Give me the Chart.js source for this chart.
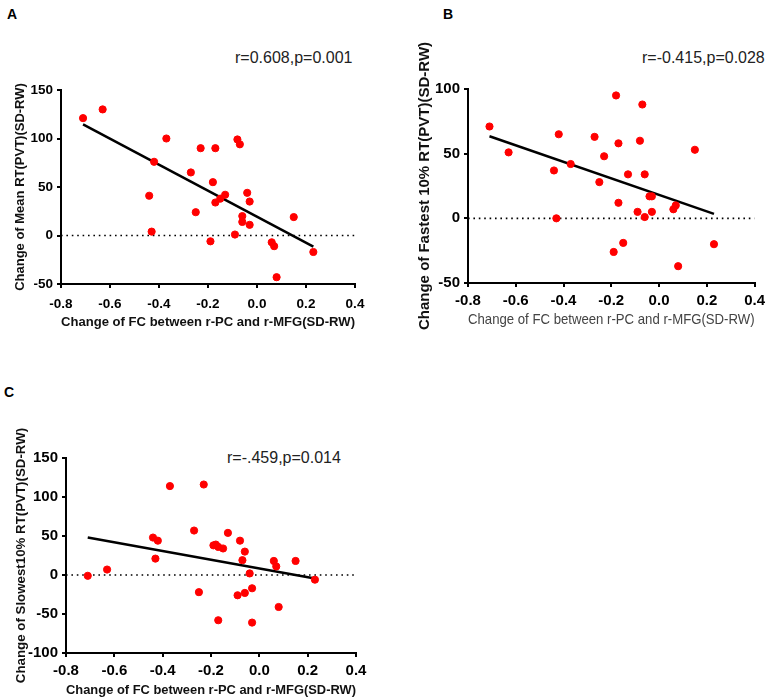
<!DOCTYPE html>
<html>
<head>
<meta charset="utf-8">
<script src="https://cdn.jsdelivr.net/npm/chart.js@4/dist/chart.umd.min.js"></script>
<style>
  body { margin:0; background:#fff; width:770px; height:699px; position:relative; overflow:hidden; font-family:"Liberation Sans", Arial, sans-serif; }
  .box { position:absolute; }
  .tag { position:absolute; font-weight:bold; font-size:14px; line-height:1; color:#000; }
  .stat { position:absolute; font-size:16px; line-height:1; color:#222; white-space:nowrap; }
</style>
</head>
<body>
<div class="tag" style="left:7px;top:7px;">A</div>
<div class="tag" style="left:443px;top:7px;">B</div>
<div class="tag" style="left:4px;top:385px;">C</div>

<div class="stat" style="left:235px;top:50px;">r=0.608,p=0.001</div>
<div class="stat" style="left:642px;top:50px;">r=-0.415,p=0.028</div>
<div class="stat" style="left:227px;top:450px;">r=-.459,p=0.014</div>

<div class="box" style="left:0;top:30px;width:385px;height:310px;"><canvas id="chartA"></canvas></div>
<div class="box" style="left:385px;top:30px;width:385px;height:310px;"><canvas id="chartB"></canvas></div>
<div class="box" style="left:0;top:370px;width:385px;height:329px;"><canvas id="chartC"></canvas></div>

<script>
// x = change of FC between r-PC and r-MFG, y = change of RT, one pair per subject
var fcA = [-0.71,-0.63,-0.37,-0.23,-0.17,-0.08,-0.07,-0.42,-0.27,-0.18,-0.44,-0.17,-0.15,-0.13,-0.04,-0.03,-0.25,-0.06,-0.06,-0.03,0.15,-0.43,-0.09,-0.19,0.06,0.07,0.23,0.08];
var meanRT = [121,130,100,90,90,99,94,76,65,55,41,34,38,42,44,35,24,20,14,11,19,4,1,-6,-7,-11,-17,-43];

var fcB = [-0.71,-0.63,-0.42,-0.44,-0.37,-0.43,-0.27,-0.23,-0.25,-0.18,-0.17,-0.17,-0.13,-0.19,-0.15,-0.07,-0.08,-0.06,-0.09,-0.06,-0.04,-0.03,-0.03,0.06,0.07,0.15,0.23,0.08];
var fastRT = [71,51,65,37,42,0,63,48,28,95,58,12,34,-26,-19,88,60,34,5,1,17,17,5,7,10,53,-20,-37];

var fcC = [-0.71,-0.63,-0.44,-0.42,-0.43,-0.37,-0.23,-0.27,-0.25,-0.19,-0.18,-0.17,-0.15,-0.13,-0.17,-0.08,-0.06,-0.07,-0.04,-0.09,-0.06,-0.03,-0.03,0.06,0.07,0.15,0.08,0.23];
var slowRT = [-1,7,48,44,21,114,116,57,-22,38,39,36,34,54,-58,44,30,19,2,-26,-23,-17,-61,18,11,18,-41,-6];

// regression line ends [x1, y1, x2, y2]
var fitA = [-0.71, 114.5, 0.23, -11.5];
var fitB = [-0.71, 63.5, 0.23, 3.5];
var fitC = [-0.71, 48, 0.23, -4.5];

var xTicks = [-0.8, 0.4, 0.2];       // min, max, step
var yTicksA = [-50, 150, 50];
var yTicksB = [-50, 100, 50];
var yTicksC = [-100, 150, 50];

var xTitle = "Change of FC between r-PC and r-MFG(SD-RW)";
var yTitleA = "Change of Mean RT(PVT)(SD-RW)";
var yTitleB = "Change of Fastest 10% RT(PVT)(SD-RW)";
var yTitleC = "Change of Slowest10% RT(PVT)(SD-RW)";

var FONT = "'Liberation Sans', Arial, sans-serif";

// zip two arrays into {x,y} points
var toPoints = function(xs, ys){
  var pts = [];
  for (var i = 0; i < xs.length; i++) {
    pts.push({x: xs[i], y: ys[i]});
  }
  return pts;
};

// cfg holds the layout bits for one panel
var makeChart = function(id, xs, ys, fit, yTicks, yTitle, cfg){
  var ctx = document.getElementById(id).getContext('2d');
  return new Chart(ctx, {
    type: 'scatter',
    data: {
      datasets: [
        {
          data: toPoints(xs, ys),
          backgroundColor: '#ff0000',
          borderColor: '#ff0000',
          pointRadius: 3.6,
          pointHoverRadius: 3.6,
          clip: false
        },
        {
          type: 'line',
          data: [{x: fit[0], y: fit[1]}, {x: fit[2], y: fit[3]}],
          borderColor: '#000',
          borderWidth: 2.5,
          pointRadius: 0,
          fill: false
        },
        {
          // dotted zero line
          type: 'line',
          data: [{x: xTicks[0], y: 0}, {x: xTicks[1], y: 0}],
          borderColor: '#000',
          borderWidth: 1.6,
          borderDash: [1.6, 3.8],
          pointRadius: 0,
          fill: false
        }
      ]
    },
    options: {
      responsive: true,
      maintainAspectRatio: false,
      animation: false,
      events: [],
      layout: {padding: {left: 0, right: cfg.right, top: cfg.top, bottom: 0}},
      plugins: {legend: {display: false}, tooltip: {enabled: false}},
      scales: {
        x: {
          type: 'linear',
          min: xTicks[0], max: xTicks[1],
          ticks: {
            stepSize: xTicks[2], color: '#000', padding: cfg.xPad,
            font: {family: FONT, size: cfg.tick, weight: 'bold'},
            callback: function(v){ return v.toFixed(1); }
          },
          grid: {drawOnChartArea: false, drawTicks: true, tickLength: 4, color: '#000', lineWidth: 2},
          border: {color: '#000', width: 2},
          title: {
            display: true, text: xTitle, color: cfg.xTitleColor,
            font: {family: FONT, size: cfg.xTitleSize, weight: cfg.xTitleWeight},
            padding: {top: 0, bottom: cfg.xTitlePad}
          },
          afterFit: function(s){ s.height = cfg.xH; }
        },
        y: {
          type: 'linear',
          min: yTicks[0], max: yTicks[1],
          ticks: {
            stepSize: yTicks[2], color: '#000', padding: 4,
            font: {family: FONT, size: cfg.tick, weight: 'bold'}
          },
          grid: {drawOnChartArea: false, drawTicks: true, tickLength: 4, color: '#000', lineWidth: 2},
          border: {color: '#000', width: 2},
          title: {
            display: true, text: yTitle, color: '#111',
            font: {family: FONT, size: cfg.yTitleSize, weight: 'bold'},
            padding: {top: cfg.yTitlePad, bottom: 0}
          },
          afterFit: function(s){ s.width = cfg.yW; }
        }
      }
    }
  });
};

makeChart('chartA', fcA, meanRT, fitA, yTicksA, yTitleA, {
  right: 30, top: 60, yW: 61, xH: 56, tick: 13.5, xPad: 8,
  xTitleSize: 13.5, xTitleWeight: 'bold', xTitleColor: '#111', xTitlePad: 10,
  yTitleSize: 13, yTitlePad: 13
});
makeChart('chartB', fcB, fastRT, fitB, yTicksB, yTitleB, {
  right: 12, top: 59, yW: 83, xH: 57, tick: 15, xPad: 5,
  xTitleSize: 14.5, xTitleWeight: 'normal', xTitleColor: '#444', xTitlePad: 11,
  yTitleSize: 15, yTitlePad: 31
});
makeChart('chartC', fcC, slowRT, fitC, yTicksC, yTitleC, {
  right: 29, top: 88, yW: 66, xH: 46, tick: 15, xPad: 5,
  xTitleSize: 13.3, xTitleWeight: 'bold', xTitleColor: '#111', xTitlePad: 1,
  yTitleSize: 13.3, yTitlePad: 13
});
</script>
</body>
</html>
